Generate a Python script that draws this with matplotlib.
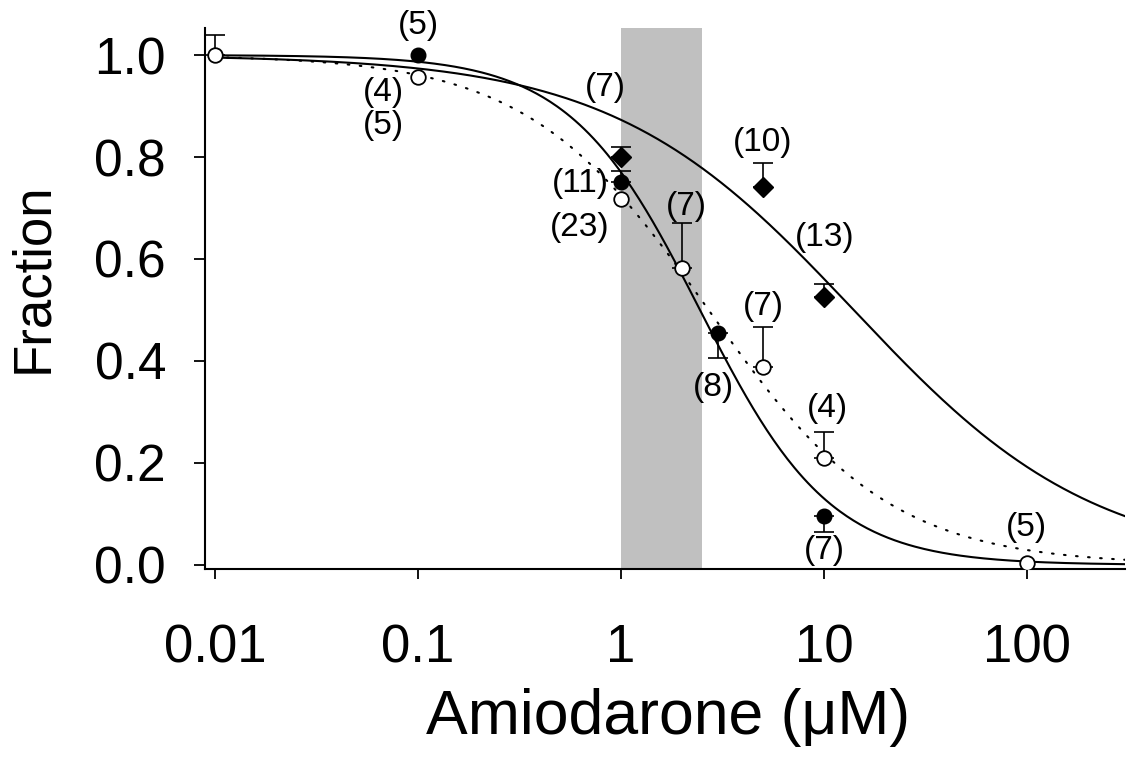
import numpy as np
import matplotlib.pyplot as plt

# measured points (amiodarone concentration in uM, fraction)
filled_x = [0.1, 1, 3, 10]
filled_y = [1.0, 0.751, 0.455, 0.096]
filled_up = [0, 0.022, 0, 0]
filled_down = [0, 0, 0.049, 0.031]

open_x = [0.01, 0.1, 1, 2, 5, 10, 100]
open_y = [1.0, 0.957, 0.718, 0.582, 0.388, 0.21, 0.004]
open_up = [0.039, 0, 0, 0.089, 0.079, 0.051, 0]
open_down = [0, 0, 0, 0, 0, 0, 0]

diam_x = [1, 5, 10]
diam_y = [0.80, 0.741, 0.525]
diam_up = [0.02, 0.047, 0.026]
diam_down = [0, 0, 0]

# Hill fits (IC50, slope)
fit_filled = (2.45, 1.35)
fit_open = (2.7, 0.97)
fit_diam = (14.0, 0.73)

# n-values written next to the points
n_labels = ["(5)", "(4)", "(5)", "(7)", "(10)", "(13)", "(11)", "(23)",
            "(7)", "(8)", "(7)", "(4)", "(7)", "(5)"]
n_pos = [(0.1, 1.057), (0.0673, 0.927), (0.0673, 0.861), (0.834, 0.937),
         (5.0, 0.829), (10.1, 0.643), (0.628, 0.749), (0.628, 0.661),
         (2.09, 0.702), (2.84, 0.347), (5.0, 0.506), (10.4, 0.306),
         (10.0, 0.029), (99, 0.073)]

xticks = [0.01, 0.1, 1, 10, 100]
xtick_labels = ["0.01", "0.1", "1", "10", "100"]
yticks = [0.0, 0.2, 0.4, 0.6, 0.8, 1.0]

plt.rcParams['font.family'] = ['Liberation Sans', 'DejaVu Sans']

fig = plt.figure(figsize=(11.31, 7.76), dpi=100)
ax = fig.add_axes([205/1131, 207/776, 920/1131, 541/776])

ax.set_xscale('log')
ax.set_xlim(10**(-2 - 10/203), 10**(2 + 98/203))
ax.set_ylim(-0.008, 1.053)

# shaded therapeutic range
ax.axvspan(1, 2.5, color='#c0c0c0', lw=0, zorder=0)

def hill(x, ic50, n):
    return 1.0 / (1.0 + (x / ic50) ** n)

xx = np.logspace(-2, np.log10(ax.get_xlim()[1]), 400)
ax.plot(xx, hill(xx, *fit_filled), color='black', lw=1.5, zorder=2)
ax.plot(xx, hill(xx, *fit_diam), color='black', lw=1.5, zorder=2)
ax.plot(xx, hill(xx, *fit_open), color='black', lw=1.5,
        linestyle=(0, (0.8, 5)), dash_capstyle='round', zorder=2)

def errs(x, y, up, down):
    x, y, up, down = map(np.array, (x, y, up, down))
    m = (up > 0) | (down > 0)
    ax.errorbar(x[m], y[m], yerr=[down[m], up[m]], fmt='none', ecolor='black',
                elinewidth=1.2, capsize=7, capthick=1.2, zorder=3)

errs(filled_x, filled_y, filled_up, filled_down)
errs(open_x, open_y, open_up, open_down)
errs(diam_x, diam_y, diam_up, diam_down)

ax.plot(filled_x, filled_y, 'o', ms=10.5, mfc='black', mec='black', zorder=4)
ax.plot(diam_x, diam_y, 'D', ms=10, mfc='black', mec='black', zorder=4)
ax.plot(open_x, open_y, 'o', ms=10.5, mfc='white', mec='black', mew=1.3, zorder=5)

for t, (px, py) in zip(n_labels, n_pos):
    ax.text(px, py, t, fontsize=24, ha='center', va='center', zorder=6)

ax.spines['top'].set_visible(False)
ax.spines['right'].set_visible(False)
ax.spines['left'].set_linewidth(1.5)
ax.spines['bottom'].set_linewidth(1.5)

ax.set_xticks(xticks)
ax.set_xticklabels(xtick_labels, fontsize=38)
ax.xaxis.set_minor_locator(plt.NullLocator())
ax.set_yticks(yticks)
ax.set_yticklabels([f"{v:.1f}" for v in yticks], fontsize=37)
ax.tick_params(axis='x', direction='out', length=7, width=1.3, pad=32)
ax.tick_params(axis='y', direction='out', length=8, width=1.3, pad=20)

ax.text(0.503, -0.275, "Amiodarone (\u03bcM)", transform=ax.transAxes,
        ha='center', va='center', fontsize=45)
ax.text(-0.187, 0.538, "Fraction", transform=ax.transAxes, rotation=90,
        ha='center', va='center', fontsize=38)

plt.savefig('out.png', dpi=100)
